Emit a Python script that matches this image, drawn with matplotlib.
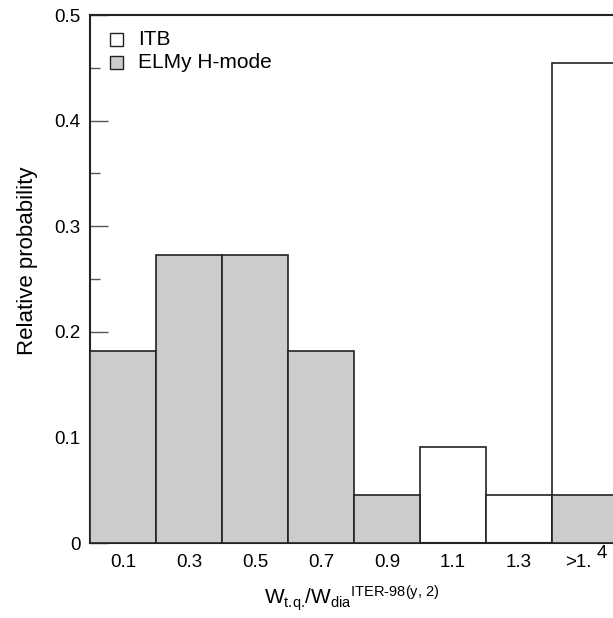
import numpy as np
import matplotlib.pyplot as plt
from matplotlib.patches import Rectangle

plt.rcParams['font.family'] = ['Liberation Sans', 'DejaVu Sans']
plt.rcParams['mathtext.fontset'] = 'custom'
plt.rcParams['mathtext.rm'] = 'Liberation Sans'
plt.rcParams['mathtext.it'] = 'Liberation Sans'

bin_labels = ['0.1', '0.3', '0.5', '0.7', '0.9', '1.1', '1.3', '']
itb = [0, 0, 0, 0, 0, 0.091, 0.045, 0.455]
elmy = [0.182, 0.273, 0.273, 0.182, 0.045, 0, 0, 0.045]

fig = plt.figure(figsize=(6.13, 6.18), dpi=100)
ax = fig.add_axes([90 / 613, 1 - 543 / 618, 1 - 90 / 613, (543 - 15) / 618])

x = np.arange(len(bin_labels))
ax.bar(x, itb, width=1.0, color='white', edgecolor='#222222', linewidth=1.2, zorder=2)
ax.bar(x, elmy, width=1.0, color='#cccccc', edgecolor='#222222', linewidth=1.2, zorder=3)

ax.set_xlim(-0.5, -0.5 + 523 / 66)
ax.set_ylim(0, 0.5)

tick_pad = 8
ax.set_xticks(x)
ax.set_xticklabels(bin_labels, fontsize=13.5)
ax.tick_params(axis='x', length=0, pad=tick_pad)

# last bin label ">1.4" with its raised final digit
xt = ax.get_xaxis_transform()
ax.annotate('>1.', xy=(7.106, 0), xycoords=xt, xytext=(0, -tick_pad), textcoords='offset points',
            fontsize=13.5, ha='right', va='top')
ax.annotate('4', xy=(7.18, 0), xycoords=xt, xytext=(0, -tick_pad + 6.5), textcoords='offset points',
            fontsize=13.5, ha='left', va='top')

ax.set_yticks([0, 0.1, 0.2, 0.3, 0.4, 0.5])
ax.set_yticklabels(['0', '0.1', '0.2', '0.3', '0.4', '0.5'], fontsize=13.5)
ax.set_yticks(np.arange(0.05, 0.5, 0.1), minor=True)
ax.tick_params(axis='y', which='major', direction='in', length=13, width=1, color='#555555', pad=7)
ax.tick_params(axis='y', which='minor', direction='in', length=7, width=1, color='#555555')

for side in ['left', 'bottom', 'top']:
    ax.spines[side].set_linewidth(1.5)
    ax.spines[side].set_color('#222222')
ax.spines['right'].set_visible(False)

ax.text(-0.119, 0.534, 'Relative probability', transform=ax.transAxes, fontsize=16,
        rotation=90, ha='center', va='center')
ax.text(0.5, -0.1155,
        r'$\mathregular{W_{\text{t.q.}}/W_{\text{dia}}{}^{\text{ITER-98(y, 2)}}}$',
        transform=ax.transAxes, fontsize=15, ha='center', va='baseline')

# legend: small boxes with labels in the upper left corner
legend_items = [('ITB', 'white', 0.941), ('ELMy H-mode', '#cccccc', 0.898)]
bw, bh = 13 / 523, 13 / 528
for label, color, yb in legend_items:
    ax.add_patch(Rectangle((0.0382, yb), bw, bh, transform=ax.transAxes, facecolor=color,
                           edgecolor='#222222', linewidth=1.0, zorder=5))
    ax.text(0.0918, yb + bh / 2, label, transform=ax.transAxes, fontsize=15,
            ha='left', va='center')

fig.savefig('out.png', dpi=100)
